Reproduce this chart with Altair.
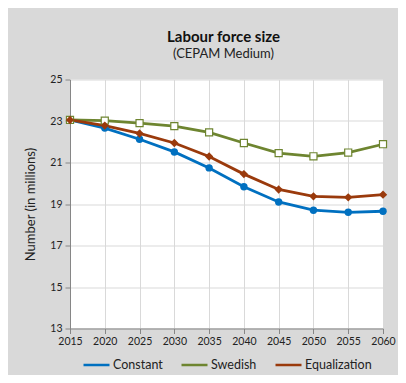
import altair as alt
import pandas as pd

years = [2015, 2020, 2025, 2030, 2035, 2040, 2045, 2050, 2055, 2060]
series = ["Constant", "Swedish", "Equalization"]
constant = [23.05, 22.66, 22.12, 21.51, 20.74, 19.83, 19.10, 18.70, 18.60, 18.65]
swedish = [23.05, 23.02, 22.90, 22.75, 22.45, 21.94, 21.45, 21.30, 21.48, 21.88]
equalization = [23.05, 22.78, 22.40, 21.94, 21.29, 20.44, 19.70, 19.37, 19.32, 19.45]
colors = ["#0070C0", "#6E8530", "#9A3A0C"]
y_ticks = [13, 15, 17, 19, 21, 23, 25]
x_ticks = years

rows = []
for name, vals in zip(series, [constant, swedish, equalization]):
    for yr, v in zip(years, vals):
        rows.append({"Year": yr, "Value": v, "Series": name})
df = pd.DataFrame(rows)

FONT = "Lato"

x_enc = alt.X(
    "Year:Q",
    scale=alt.Scale(domain=[2015, 2060], nice=False, zero=False),
    axis=alt.Axis(values=x_ticks, format="d", title=None, labelOverlap=False, labelFlush=False),
)
y_enc = alt.Y(
    "Value:Q",
    scale=alt.Scale(domain=[13, 25], nice=False, zero=False),
    axis=alt.Axis(values=y_ticks, title="Number (in millions)", titlePadding=12, labelOverlap=False),
)

base = alt.Chart(df)

lines = base.mark_line(strokeWidth=2.8).encode(
    x=x_enc,
    y=y_enc,
    color=alt.Color(
        "Series:N",
        scale=alt.Scale(domain=series, range=colors),
        legend=alt.Legend(
            title=None,
            orient="none",
            direction="horizontal",
            legendX=12,
            legendY=271,
            symbolType="stroke",
            symbolSize=676,
            symbolStrokeWidth=2.5,
            labelFont=FONT,
            labelFontSize=12.5,
            labelColor="#222222",
            labelOffset=2,
            columnPadding=13,
        ),
    ),
)

pts_c = base.transform_filter(alt.datum.Series == "Constant").mark_point(
    shape="circle", filled=True, size=55, opacity=1, color=colors[0]
).encode(x=x_enc, y=y_enc)
pts_s = base.transform_filter(alt.datum.Series == "Swedish").mark_point(
    shape="square", filled=True, size=50, opacity=1, fill="#ffffff", stroke=colors[1], strokeWidth=1.2
).encode(x=x_enc, y=y_enc)
pts_e = base.transform_filter(alt.datum.Series == "Equalization").mark_point(
    shape="diamond", filled=True, size=70, opacity=1, color=colors[2]
).encode(x=x_enc, y=y_enc)

chart = (
    alt.layer(lines, pts_c, pts_s, pts_e)
    .properties(
        width=313,
        height=249,
        background="#d9d9d9",
        autosize=alt.AutoSizeParams(type="none"),
        padding={"left": 62, "top": 71.5, "right": 15, "bottom": 46.5},
        title=alt.Title(
            "Labour force size",
            subtitle="(CEPAM Medium)",
            font=FONT,
            fontSize=15,
            fontWeight="bold",
            color="#111111",
            subtitleFont=FONT,
            subtitleFontSize=13,
            subtitleColor="#222222",
            subtitlePadding=3,
            anchor="middle",
            dx=-3,
            offset=14,
        ),
    )
    .configure_view(fill="#ffffff", stroke=None)
    .configure_axis(
        gridColor="#d9d9d9",
        gridWidth=1,
        domainColor="#868686",
        tickColor="#868686",
        tickSize=5,
        labelOverlap=False,
        labelFont=FONT,
        labelFontSize=10.5,
        labelColor="#222222",
        labelPadding=3,
        titleFont=FONT,
        titleFontSize=13,
        titleFontWeight="normal",
        titleColor="#222222",
    )
)

chart.save("out.html", embed_options={"renderer": "svg", "actions": False})
